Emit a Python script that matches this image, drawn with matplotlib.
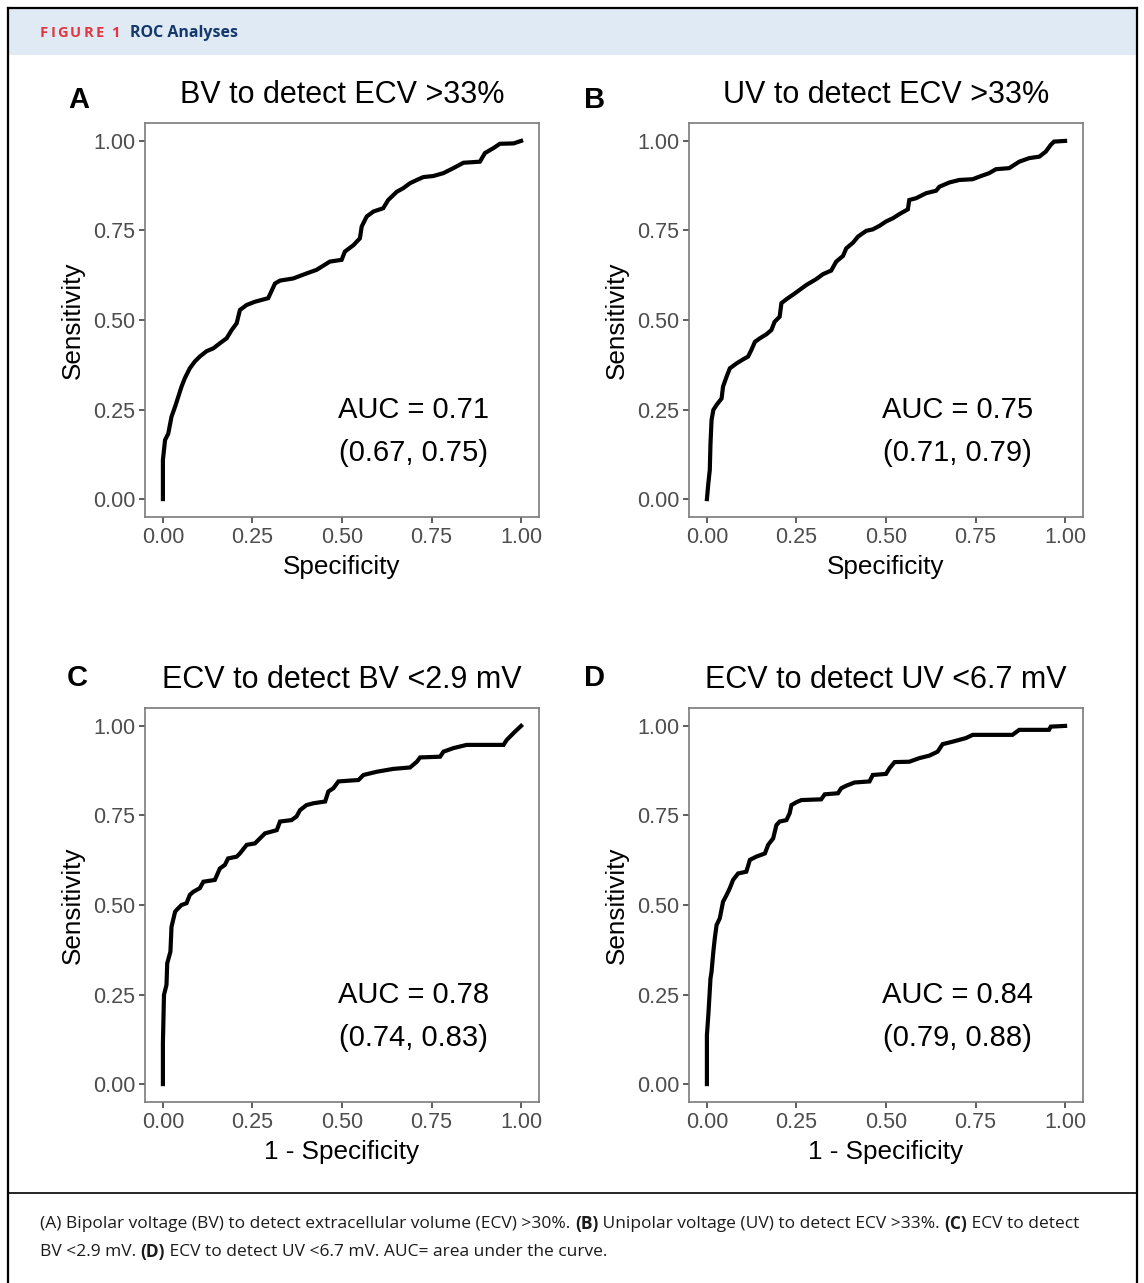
import matplotlib
matplotlib.use("Agg")
import matplotlib.pyplot as plt
from matplotlib.patches import Rectangle
from matplotlib.lines import Line2D

# ROC curves (x = 1 - specificity, y = sensitivity)
a_x = [0, 0, 0.006, 0.015, 0.024, 0.034, 0.043, 0.052, 0.061, 0.075, 0.089, 0.103, 0.122, 0.141,
       0.159, 0.178, 0.192, 0.206, 0.215, 0.234, 0.257, 0.294, 0.313, 0.327, 0.364, 0.401, 0.429,
       0.466, 0.499, 0.508, 0.532, 0.550, 0.555, 0.569, 0.588, 0.615, 0.629, 0.653, 0.671, 0.690,
       0.709, 0.727, 0.755, 0.783, 0.811, 0.839, 0.885, 0.899, 0.923, 0.941, 0.979, 1.0]
a_y = [0, 0.109, 0.165, 0.183, 0.230, 0.258, 0.286, 0.314, 0.337, 0.365, 0.384, 0.398, 0.413, 0.421,
       0.435, 0.449, 0.472, 0.491, 0.528, 0.542, 0.551, 0.561, 0.602, 0.610, 0.616, 0.630, 0.640,
       0.663, 0.668, 0.691, 0.709, 0.728, 0.761, 0.789, 0.803, 0.812, 0.835, 0.858, 0.868, 0.882,
       0.891, 0.899, 0.902, 0.910, 0.924, 0.939, 0.942, 0.966, 0.980, 0.992, 0.993, 1.0]

b_x = [0, 0.004, 0.008, 0.010, 0.013, 0.018, 0.027, 0.041, 0.045, 0.055, 0.064, 0.083, 0.101, 0.115,
       0.124, 0.134, 0.148, 0.166, 0.180, 0.189, 0.203, 0.208, 0.222, 0.245, 0.278, 0.305, 0.324,
       0.347, 0.361, 0.380, 0.389, 0.408, 0.422, 0.445, 0.463, 0.482, 0.500, 0.519, 0.538, 0.561,
       0.565, 0.584, 0.612, 0.640, 0.649, 0.677, 0.705, 0.742, 0.760, 0.788, 0.807, 0.844, 0.872,
       0.900, 0.928, 0.946, 0.960, 0.969, 1.0]
b_y = [0, 0.044, 0.081, 0.155, 0.221, 0.249, 0.263, 0.281, 0.314, 0.342, 0.365, 0.379, 0.390, 0.398,
       0.416, 0.439, 0.449, 0.460, 0.472, 0.495, 0.509, 0.547, 0.558, 0.574, 0.598, 0.614, 0.628,
       0.638, 0.663, 0.679, 0.700, 0.716, 0.733, 0.749, 0.753, 0.763, 0.775, 0.784, 0.796, 0.809,
       0.835, 0.840, 0.854, 0.861, 0.872, 0.884, 0.891, 0.893, 0.900, 0.910, 0.921, 0.924, 0.942,
       0.952, 0.956, 0.970, 0.989, 0.998, 1.0]

c_x = [0, 0, 0.003, 0.010, 0.012, 0.021, 0.024, 0.034, 0.038, 0.052, 0.066, 0.075, 0.085, 0.103,
       0.113, 0.145, 0.159, 0.173, 0.182, 0.206, 0.215, 0.234, 0.257, 0.271, 0.285, 0.318, 0.327,
       0.359, 0.373, 0.383, 0.401, 0.420, 0.453, 0.462, 0.476, 0.490, 0.546, 0.560, 0.597, 0.643,
       0.690, 0.709, 0.718, 0.774, 0.783, 0.811, 0.848, 0.951, 0.960, 0.983, 1.0]
c_y = [0, 0.114, 0.249, 0.277, 0.337, 0.370, 0.439, 0.481, 0.486, 0.500, 0.505, 0.528, 0.537, 0.547,
       0.565, 0.570, 0.602, 0.612, 0.630, 0.635, 0.644, 0.668, 0.672, 0.686, 0.700, 0.709, 0.733,
       0.737, 0.747, 0.765, 0.779, 0.784, 0.789, 0.817, 0.826, 0.845, 0.849, 0.863, 0.872, 0.880,
       0.884, 0.900, 0.912, 0.914, 0.928, 0.938, 0.947, 0.947, 0.961, 0.984, 1.0]

d_x = [0, 0, 0.004, 0.010, 0.013, 0.018, 0.022, 0.027, 0.036, 0.045, 0.055, 0.064, 0.073, 0.087,
       0.110, 0.120, 0.138, 0.162, 0.171, 0.185, 0.194, 0.203, 0.222, 0.231, 0.236, 0.250, 0.264,
       0.319, 0.329, 0.366, 0.375, 0.389, 0.412, 0.454, 0.463, 0.500, 0.510, 0.524, 0.565, 0.593,
       0.621, 0.644, 0.658, 0.686, 0.723, 0.742, 0.853, 0.872, 0.955, 0.960, 1.0]
d_y = [0, 0.137, 0.193, 0.295, 0.314, 0.370, 0.407, 0.444, 0.463, 0.509, 0.528, 0.547, 0.570, 0.588,
       0.593, 0.626, 0.635, 0.644, 0.668, 0.686, 0.723, 0.733, 0.737, 0.756, 0.779, 0.787, 0.793,
       0.795, 0.809, 0.812, 0.826, 0.833, 0.842, 0.845, 0.863, 0.866, 0.882, 0.899, 0.900, 0.910,
       0.917, 0.928, 0.949, 0.956, 0.966, 0.975, 0.975, 0.989, 0.989, 0.998, 1.0]

titles = ["BV to detect ECV >33%", "UV to detect ECV >33%",
          "ECV to detect BV <2.9 mV", "ECV to detect UV <6.7 mV"]
letters = ["A", "B", "C", "D"]
auc_lines = [("AUC = 0.71", "(0.67, 0.75)"), ("AUC = 0.75", "(0.71, 0.79)"),
             ("AUC = 0.78", "(0.74, 0.83)"), ("AUC = 0.84", "(0.79, 0.88)")]
xlabels = ["Specificity", "Specificity", "1 - Specificity", "1 - Specificity"]
ticks = [0.0, 0.25, 0.5, 0.75, 1.0]
tick_labels = ["0.00", "0.25", "0.50", "0.75", "1.00"]
curves = [(a_x, a_y), (b_x, b_y), (c_x, c_y), (d_x, d_y)]

W, H = 1144, 1283
fig = plt.figure(figsize=(W / 100, H / 100), dpi=100)
fig.patch.set_facecolor("white")
cap_font = ["Open Sans", "DejaVu Sans"]
renderer = fig.canvas.get_renderer()

def px(x, y):
    # pixel -> figure fraction
    return x / W, 1 - y / H

# outer frame, header band, caption divider
fig.patches.append(Rectangle(px(8, 55), 1129 / W, 47 / H, transform=fig.transFigure,
                             facecolor="#dfeaf5", edgecolor="none", zorder=0))
fig.add_artist(Line2D([8 / W, 8 / W], [1 - 8 / H, 0], color="black", lw=1.6, transform=fig.transFigure))
fig.add_artist(Line2D([1137 / W, 1137 / W], [1 - 8 / H, 0], color="black", lw=1.6, transform=fig.transFigure))
fig.add_artist(Line2D([8 / W, 1137 / W], [1 - 8 / H, 1 - 8 / H], color="black", lw=1.6, transform=fig.transFigure))
fig.add_artist(Line2D([8 / W, 1137 / W], [1 - 1193 / H, 1 - 1193 / H], color="black", lw=1.2, transform=fig.transFigure))

# "FIGURE 1" with wide tracking
x0 = 40
for ch in "FIGURE 1":
    t = fig.text(*px(x0, 33), ch, color="#e2353f", fontsize=10.5, fontweight="bold",
                 family=cap_font, va="center")
    x0 += (t.get_window_extent(renderer=renderer).width if ch != " " else 3) + 2.2
fig.text(*px(130, 33), "ROC Analyses", color="#14386b", fontsize=11.5, fontweight="bold",
         family=cap_font, va="center")

# panel axes (pixel positions of the panel boxes)
lefts = [145, 689, 145, 689]
tops = [123, 123, 708, 708]
letter_pos = [(79, 100), (595, 100), (77, 678), (595, 678)]
size = 394

for i in range(4):
    l, t = lefts[i], tops[i]
    ax = fig.add_axes([l / W, 1 - (t + size) / H, size / W, size / H])
    ax.plot(curves[i][0], curves[i][1], color="black", lw=3, solid_joinstyle="miter")
    ax.set_xlim(-0.05, 1.05)
    ax.set_ylim(-0.05, 1.05)
    ax.set_xticks(ticks)
    ax.set_yticks(ticks)
    ax.set_xticklabels(tick_labels, family="Liberation Sans", fontsize=15.5, color="#4d4d4d")
    ax.set_yticklabels(tick_labels, family="Liberation Sans", fontsize=15.5, color="#4d4d4d")
    ax.tick_params(length=4, width=1.1, color="#333333", pad=3)
    for s in ax.spines.values():
        s.set_color("#7a7a7a")
        s.set_linewidth(1.2)
    ax.set_xlabel(xlabels[i], family="Liberation Sans", fontsize=18.8, va="center")
    ax.set_ylabel("Sensitivity", family="Liberation Sans", fontsize=18.8, va="center")
    ax.xaxis.set_label_coords(0.5, -50 / size)
    ax.yaxis.set_label_coords(-72 / size, 0.5)
    ax.text(0.5, 1 + 28 / size, titles[i], transform=ax.transAxes, ha="center", va="center",
            family="Liberation Sans", fontsize=22)
    ax.text(0.70, 0.25, auc_lines[i][0], ha="center", va="center",
            family="Liberation Sans", fontsize=21)
    ax.text(0.70, 0.13, auc_lines[i][1], ha="center", va="center",
            family="Liberation Sans", fontsize=21)
    fig.text(*px(*letter_pos[i]), letters[i], ha="center", va="center",
             family="Liberation Sans", fontsize=21, fontweight="bold")

# caption with bold panel markers
cap_lines = [
    [("(A) Bipolar voltage (BV) to detect extracellular volume (ECV) >30%. ", "normal"),
     ("(B)", "bold"), (" Unipolar voltage (UV) to detect ECV >33%. ", "normal"),
     ("(C)", "bold"), (" ECV to detect", "normal")],
    [("BV <2.9 mV. ", "normal"), ("(D)", "bold"),
     (" ECV to detect UV <6.7 mV. AUC= area under the curve.", "normal")],
]
cap_y = [1224, 1252]
for line, yy in zip(cap_lines, cap_y):
    x0 = 40
    for txt, wt in line:
        t = fig.text(*px(x0, yy), txt, fontsize=12.5, fontweight=wt, family=cap_font,
                     va="center", color="#1a1a1a")
        x0 += t.get_window_extent(renderer=renderer).width

fig.savefig("out.png", dpi=100)
